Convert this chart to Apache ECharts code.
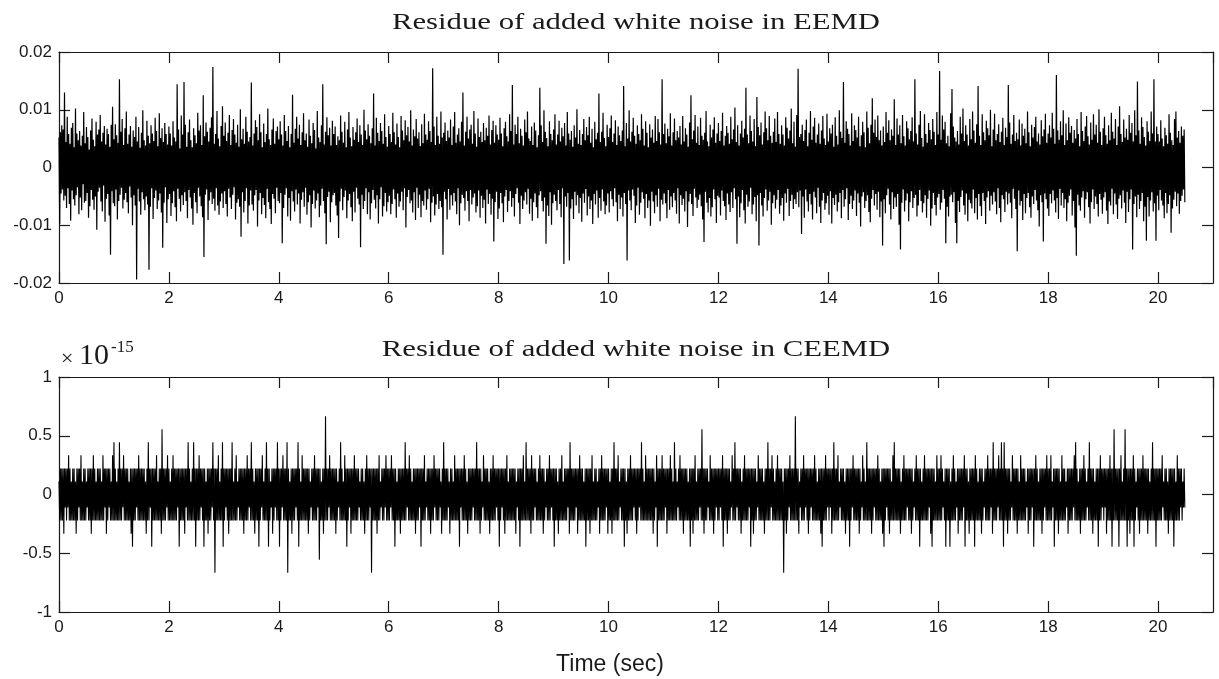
<!DOCTYPE html>
<html>
<head>
<meta charset="utf-8">
<script src="https://cdn.jsdelivr.net/npm/echarts/dist/echarts.min.js"></script>
<style>
  html, body { margin: 0; padding: 0; background: #fff; }
  #chart { width: 1219px; height: 679px; }
</style>
</head>
<body>
<div id="chart"></div>
<script>
// Seconds between stored samples (80 samples per second).
const SAMPLE_STEP = 0.0125;

// EEMD residue, stored in units of 1e-4; one line per second of signal.
const eemdE4 = [
  52,-98,61,-45,73,-38,66,-57,130,-49, 44,-70,88,-36,58,-63,41,-92,69,-40, 77,-55,35,-66,102,-48,59,-34,47,-81, 63,-52,38,-74,55,-29,96,-61,42,-58,
  70,-44,53,-87,31,-67,64,-39,85,-56, 48,-73,37,-50,79,-108,57,-42,66,-35, 91,-59,45,-76,60,-31,72,-94,40,-54, 67,-46,58,-83,36,-151,74,-41,105,-62,
  49,-67,75,-38,56,-90,43,-58,153,-47, 62,-35,84,-71,39,-56,68,-44,97,-60, 41,-79,57,-33,72,-52,36,-100,64,-48, 53,-66,88,-194,45,-37,70,-59,34,-82,
  60,-43,99,-55,47,-74,38,-50,81,-64, 55,-177,42,-68,73,-36,59,-89,46,-53, 86,-40,63,-72,37,-57,94,-45,51,-78, 68,-139,44,-61,77,-34,58,-96,40,-55,
  71,-46,59,-84,38,-62,80,-41,52,-69, 45,-93,144,-37,66,-54,33,-76,90,-48, 57,-65,148,-43,74,-58,36,-88,61,-39, 83,-52,47,-71,35,-99,68,-44,56,-60,
  42,-79,95,-35,64,-50,73,-67,39,-86, 125,-155,54,-47,78,-38,62,-91,45,-57, 69,-43,87,-63,174,-54,41,-75,58,-36, 98,-66,50,-82,37,-59,72,-45,106,-70,
  55,-41,78,-63,46,-85,60,-37,91,-52, 39,-72,65,-47,84,-34,57,-90,43,-61, 74,-55,36,-68,101,-120,49,-43,67,-78, 41,-58,88,-36,62,-97,45,-66,53,-40,
  147,-64,38,-75,59,-48,82,-39,70,-102, 47,-57,92,-44,61,-81,35,-53,76,-65, 44,-88,58,-37,102,-60,49,-72,39,-98, 66,-46,85,-54,41,-79,63,-35,71,-58,
  49,-62,80,-44,57,-131,38,-70,91,-47, 63,-36,46,-85,72,-53,35,-92,58,-41, 126,-59,43,-76,67,-38,88,-64,50,-45, 74,-97,39,-56,61,-43,94,-68,47,-35,
  59,-82,36,-60,83,-48,55,-104,42,-63, 77,-40,65,-71,33,-57,98,-45,52,-86, 44,-66,73,-37,144,-58,40,-79,62,-133, 87,-51,56,-42,69,-95,38,-60,81,-48,
  58,-44,71,-66,39,-83,54,-122,47,-59, 90,-37,62,-74,43,-51,79,-40,35,-88, 66,-57,96,-46,52,-69,37,-93,70,-42, 48,-78,61,-35,85,-54,44,-64,73,-138,
  57,-47,39,-72,100,-58,64,-36,49,-81, 75,-43,55,-90,42,-62,68,-39,128,-56, 38,-71,86,-48,60,-97,46,-55,77,-34, 63,-85,41,-67,92,-44,53,-76,36,-60,
  72,-49,58,-81,44,-63,95,-38,61,-55, 40,-87,76,-45,53,-68,35,-59,89,-42, 64,-74,47,-36,82,-104,56,-51,70,-39, 45,-62,99,-57,38,-78,66,-43,54,-91,
  84,-35,50,-70,61,-47,37,-86,75,-58, 42,-66,93,-40,57,-73,48,-55,80,-37, 63,-95,44,-61,172,-50,71,-83,39,-64, 88,-46,55,-72,41,-58,97,-69,52,-151,
  60,-42,78,-55,46,-90,64,-37,52,-73, 83,-48,39,-66,71,-44,96,-59,43,-81, 57,-36,68,-100,45,-62,79,-47,130,-53, 38,-75,62,-41,88,-58,50,-93,66,-39,
  74,-64,41,-52,98,-45,59,-78,36,-67, 85,-40,53,-87,62,-49,44,-70,77,-56, 47,-97,69,-38,55,-63,90,-46,40,-82, 65,-54,81,-128,43,-60,73,-42,57,-89,
  48,-71,86,-44,59,-62,37,-95,68,-50, 79,-39,54,-77,45,-58,92,-41,63,-68, 143,-53,40,-85,74,-46,58,-36,88,-61, 42,-98,67,-49,55,-72,38,-57,83,-43,
  61,-64,97,-37,50,-80,46,-54,71,-92, 39,-60,78,-45,64,-69,35,-88,56,-48, 138,-41,73,-58,44,-76,99,-52,62,-132, 51,-66,37,-84,80,-43,58,-99,47,-62,
  66,-47,92,-58,40,-74,57,-39,81,-63, 45,-86,69,-36,54,-167,77,-50,38,-68, 96,-44,59,-161,48,-71,63,-55,36,-89, 73,-42,52,-66,101,-48,41,-79,65,-53,
  39,-94,58,-45,84,-61,47,-37,70,-83, 56,-50,88,-72,43,-57,67,-98,35,-46, 79,-64,49,-40,60,-87,128,-53,44,-75, 62,-38,95,-59,51,-81,37,-66,74,-45,
  53,-78,68,-41,90,-55,44,-67,59,-36, 82,-60,39,-93,71,-47,56,-72,46,-52, 64,-85,141,-44,37,-63,77,-161,50,-40, 99,-57,45,-74,62,-38,86,-49,55,-96,
  41,-66,73,-35,58,-82,47,-61,92,-43, 67,-54,38,-88,80,-46,60,-70,35,-57, 75,-101,52,-42,66,-59,43,-79,89,-48, 46,-68,84,-37,61,-93,40,-56,153,-64,
  58,-45,76,-62,42,-88,67,-39,54,-73, 94,-50,38,-69,61,-44,85,-57,47,-80, 63,-36,52,-97,72,-48,40,-65,89,-54, 45,-76,68,-41,57,-103,36,-59,78,-46,
  125,-63,49,-84,64,-37,91,-52,43,-70, 71,-56,39,-47,86,-67,55,-90,48,-129, 60,-42,98,-61,45,-78,37,-53,74,-85, 52,-69,66,-38,87,-55,43,-96,59,-49,
  77,-52,46,-83,63,-40,95,-58,38,-67, 55,-91,72,-45,60,-64,41,-77,88,-43, 49,-70,66,-36,104,-55,44,-132,73,-50, 38,-86,59,-62,81,-39,52,-74,67,-97,
  138,-47,57,-68,42,-59,90,-35,63,-81, 45,-64,84,-51,37,-93,122,-48,70,-135, 56,-44,78,-66,40,-85,61,-53,97,-38, 68,-75,47,-57,89,-42,55,-99,43,-62,
  62,-48,85,-71,44,-56,96,-39,58,-80, 41,-66,73,-53,57,-92,38,-45,87,-61, 69,-37,50,-84,64,-58,102,-47,42,-72, 79,-55,36,-63,91,-43,171,-69,53,-40,
  58,-115,74,-50,46,-87,65,-38,83,-59, 37,-76,60,-46,98,-64,48,-90,71,-42, 86,-52,43,-79,57,-35,76,-68,41,-96, 64,-57,89,-44,50,-73,39,-62,93,-49,
  45,-82,68,-41,59,-97,74,-53,36,-65, 87,-47,55,-76,40,-60,99,-44,62,-88, 51,-39,148,-68,43,-55,80,-36,67,-91, 58,-63,38,-49,94,-72,46,-57,73,-40,
  65,-84,52,-45,88,-61,37,-102,56,-50, 79,-43,61,-70,35,-58,97,-48,69,-77, 42,-95,74,-54,120,-39,60,-66,83,-46, 53,-73,90,-42,47,-86,64,-59,38,-135,
  71,-55,44,-79,96,-48,60,-37,82,-64, 47,-90,66,-43,55,-72,118,-52,39,-68, 85,-46,57,-99,73,-142,42,-61,91,-38, 54,-76,38,-57,80,-45,68,-93,49,-60,
  63,-41,87,-70,45,-53,153,-47,59,-85, 40,-66,74,-39,98,-58,51,-78,36,-62, 92,-48,58,-87,43,-54,77,-40,65,-101, 49,-71,84,-44,62,-65,39,-83,96,-52,
  57,-46,167,-73,48,-61,90,-39,66,-54, 79,-131,42,-68,55,-85,37,-50,94,-47, 136,-60,71,-43,52,-96,45,-131,63,-58, 40,-77,88,-51,59,-40,102,-66,46,-82,
  73,-45,57,-93,38,-56,84,-62,49,-71, 97,-38,64,-79,43,-53,75,-90,141,-46, 55,-67,39,-84,92,-44,61,-58,47,-98, 81,-52,68,-41,56,-75,100,-49,37,-64,
  66,-43,93,-59,47,-81,58,-36,75,-70, 44,-95,62,-48,86,-55,39,-77,69,-42, 53,-64,143,-45,78,-61,41,-88,57,-37, 91,-54,46,-72,60,-145,49,-40,83,-66,
  38,-58,76,-91,55,-46,67,-79,42,-53, 97,-44,61,-69,37,-87,74,-50,52,-63, 70,-39,88,-57,45,-74,59,-102,40,-48, 82,-60,54,-128,66,-45,93,-55,43,-71,
  59,-84,73,-46,52,-62,95,-40,67,-57, 41,-78,160,-53,64,-89,48,-37,80,-66, 56,-44,99,-70,39,-55,76,-93,47,-61, 87,-49,60,-38,72,-83,43,-58,65,-104,
  50,-153,84,-47,58,-66,37,-75,96,-52, 63,-41,46,-87,71,-55,89,-43,54,-69, 40,-97,78,-60,48,-38,92,-72,57,-50, 74,-63,43,-85,101,-46,62,-56,39,-80,
  68,-52,88,-43,56,-75,41,-98,73,-59, 47,-66,95,-37,62,-81,50,-45,84,-64, 39,-89,71,-54,106,-48,58,-71,44,-40, 83,-61,52,-96,67,-42,48,-77,91,-55,
  60,-38,77,-142,45,-63,99,-50,56,-86, 149,-47,64,-72,41,-58,87,-44,70,-93, 53,-68,38,-127,80,-51,62,-85,46,-57, 97,-43,59,-76,153,-62,45,-127,71,-49,
  58,-74,45,-39,82,-57,50,-66,37,-88, 69,-44,56,-79,41,-63,92,-48,60,-113, 47,-71,39,-56,84,-42,97,-67,52,-45, 63,-80,43,-58,71,-49,55,-38,66,-60
];

// CEEMD residue, stored as whole multiples of 2^-53 (round-off level); one line per second.
const ceemdUlp = [
  1,-2,2,-2,2,-2,2,-3,2,-1, 2,-2,2,-1,3,-2,2,-2,1,-2, 2,-2,2,-2,1,-3,2,-2,2,-1, 2,-2,3,-2,1,-2,2,-2,2,-2,
  1,-1,2,-2,2,-2,2,-3,2,-2, 3,-2,2,-2,1,-2,2,-2,2,-2, 2,-2,1,-2,3,-2,2,-1,2,-3, 2,-2,2,-1,2,-2,1,-2,3,-2,
  4,-2,2,-2,1,-2,2,-2,4,-2, 2,-2,2,-1,3,-2,2,-2,2,-2, 2,-2,1,-2,2,-3,2,-4,2,-2, 2,-2,2,-1,2,-2,3,-2,2,-2,
  2,-2,2,-2,2,-2,1,-3,2,-2, 4,-2,2,-1,2,-4,2,-2,2,-2, 2,-2,3,-2,1,-2,2,-2,2,-3, 5,-2,2,-2,2,-2,2,-1,3,-2,
  2,-2,1,-2,2,-2,3,-2,2,-2, 2,-2,2,-1,2,-4,2,-2,2,-2, 2,-2,2,-3,2,-1,2,-2,4,-2, 2,-2,1,-2,2,-2,4,-2,2,-4,
  2,-2,2,-2,3,-2,2,-1,2,-2, 2,-4,2,-2,1,-2,2,-3,2,-2, 2,-2,2,-1,4,-2,2,-6,2,-2, 2,-2,3,-2,1,-2,2,-2,4,-4,
  2,-2,2,-1,2,-2,2,-3,2,-2, 2,-2,4,-2,1,-2,2,-2,3,-2, 1,-1,2,-2,2,-2,2,-2,2,-3, 2,-2,2,-2,3,-2,2,-1,2,-2,
  4,-2,2,-2,1,-3,2,-2,2,-2, 2,-4,2,-2,2,-1,3,-2,1,-2, 2,-2,4,-2,2,-4,2,-2,1,-1, 2,-3,2,-2,2,-1,2,-2,4,-2,
  2,-4,2,-2,2,-1,3,-2,2,-2, 2,-2,4,-6,2,-2,1,-2,2,-3, 2,-2,2,-2,2,-1,2,-2,4,-4, 2,-2,1,-2,3,-2,2,-2,2,-2,
  2,-2,2,-3,2,-2,1,-1,2,-2, 2,-2,3,-2,2,-2,2,-1,2,-5, 2,-2,1,-2,2,-3,2,-2,6,-2, 2,-2,2,-1,3,-2,2,-2,2,-2,
  2,-2,2,-3,2,-2,1,-1,2,-2, 4,-2,2,-2,1,-2,3,-2,2,-4, 2,-2,2,-1,2,-3,2,-2,2,-2, 3,-2,2,-2,2,-2,2,-1,1,-2,
  2,-2,2,-2,1,-3,2,-2,3,-2, 2,-2,2,-1,2,-6,2,-2,2,-2, 2,-2,2,-3,2,-2,3,-2,1,-1, 2,-2,2,-2,2,-1,3,-2,2,-2,
  2,-2,2,-1,3,-2,2,-2,2,-4, 2,-2,1,-2,2,-2,2,-3,2,-2, 2,-2,2,-2,4,-2,2,-1,2,-2, 3,-2,2,-2,1,-2,2,-2,2,-3,
  2,-2,2,-2,2,-1,2,-4,2,-2, 2,-2,3,-2,1,-1,2,-2,2,-2, 2,-3,2,-2,2,-2,3,-1,2,-2, 2,-2,2,-2,2,-1,1,-3,2,-2,
  4,-2,2,-2,2,-2,2,-1,1,-3, 2,-2,2,-2,1,-2,3,-2,2,-2, 2,-2,2,-4,2,-1,2,-2,2,-2, 3,-2,2,-2,1,-3,2,-2,2,-2,
  2,-2,2,-1,2,-2,2,-2,4,-2, 2,-2,2,-3,2,-2,1,-1,3,-2, 2,-2,2,-2,2,-2,1,-3,2,-2, 2,-2,3,-2,2,-2,2,-1,2,-2,
  2,-4,2,-2,2,-1,2,-2,2,-3, 2,-2,3,-2,1,-2,2,-2,2,-2, 2,-2,2,-2,2,-3,1,-1,2,-2, 2,-4,2,-2,2,-2,3,-2,1,-2,
  4,-2,2,-2,2,-2,2,-3,3,-2, 2,-2,2,-1,2,-2,1,-2,2,-2, 3,-2,2,-2,2,-3,2,-2,1,-1, 2,-2,2,-2,3,-2,2,-1,2,-2,
  2,-4,2,-2,2,-2,1,-3,2,-2, 2,-2,3,-2,1,-2,2,-2,2,-2, 2,-1,2,-3,4,-2,2,-2,2,-2, 2,-2,2,-1,2,-3,2,-2,3,-2,
  2,-2,2,-2,1,-2,2,-4,2,-2, 2,-2,2,-3,2,-2,3,-2,1,-2, 2,-2,2,-2,1,-1,2,-3,2,-2, 3,-2,2,-2,2,-2,2,-1,2,-3,
  2,-2,1,-2,2,-3,2,-2,4,-2, 2,-2,2,-2,3,-2,1,-1,2,-2, 2,-2,2,-4,2,-2,1,-3,2,-2, 2,-2,3,-2,2,-2,2,-1,2,-2,
  2,-3,2,-2,2,-1,2,-2,4,-2, 2,-2,1,-2,3,-2,2,-2,2,-2, 2,-2,2,-2,2,-3,2,-2,1,-1, 3,-4,2,-2,2,-2,2,-2,3,-2,
  2,-2,2,-1,2,-3,2,-2,2,-2, 3,-2,2,-2,1,-2,4,-2,2,-2, 1,-1,2,-2,3,-2,2,-2,2,-3, 2,-2,2,-2,2,-2,1,-2,2,-4,
  2,-2,2,-3,2,-2,3,-2,1,-2, 2,-2,2,-1,2,-2,5,-2,2,-3, 2,-2,2,-2,2,-1,1,-2,3,-2, 2,-2,2,-3,2,-2,2,-1,2,-2,
  2,-2,2,-1,2,-2,3,-4,2,-2, 2,-2,2,-3,2,-2,2,-2,1,-1, 3,-2,2,-2,4,-2,2,-1,2,-2, 2,-2,2,-3,1,-2,2,-2,3,-2,
  2,-2,2,-2,2,-1,2,-4,2,-2, 2,-3,2,-2,2,-2,1,-1,3,-2, 2,-2,2,-2,2,-2,1,-3,2,-2, 2,-2,4,-2,2,-2,2,-1,3,-2,
  2,-2,1,-2,2,-2,3,-2,2,-2, 2,-2,2,-2,1,-6,2,-2,2,-3, 2,-2,2,-1,3,-2,2,-2,2,-2, 2,-2,6,-2,2,-2,2,-3,1,-1,
  2,-2,2,-2,3,-2,2,-1,2,-2, 2,-3,2,-2,2,-1,2,-2,2,-2, 3,-2,2,-2,1,-2,2,-2,2,-3, 2,-4,2,-2,2,-2,3,-2,2,-1,
  2,-2,2,-1,2,-3,2,-2,4,-2, 2,-2,2,-2,3,-2,1,-1,2,-2, 2,-2,2,-2,1,-3,2,-2,2,-2, 2,-4,2,-2,2,-1,3,-2,2,-2,
  2,-2,2,-2,2,-3,2,-2,1,-1, 3,-2,2,-2,1,-2,4,-2,2,-2, 2,-2,2,-3,2,-2,2,-1,2,-2, 2,-2,3,-2,2,-2,1,-2,2,-3,
  2,-4,2,-2,2,-1,2,-2,2,-3, 2,-2,1,-2,3,-2,4,-2,2,-2, 2,-2,2,-2,2,-3,1,-2,2,-2, 3,-2,2,-2,2,-1,2,-2,2,-2,
  2,-3,2,-2,1,-1,2,-2,3,-2, 2,-2,2,-4,2,-2,1,-2,2,-2, 3,-2,2,-2,2,-2,2,-1,2,-3, 2,-4,2,-2,2,-2,1,-2,3,-2,
  2,-2,2,-2,3,-2,2,-1,1,-2, 2,-4,2,-2,2,-2,2,-4,1,-2, 2,-2,3,-2,2,-2,1,-1,2,-3, 2,-2,2,-2,2,-2,2,-1,3,-4,
  2,-2,2,-2,1,-3,2,-2,2,-2, 2,-2,2,-4,3,-2,2,-2,1,-2, 2,-2,2,-3,2,-2,1,-1,2,-2, 2,-2,3,-2,2,-2,2,-1,2,-3,
  4,-2,2,-2,2,-2,2,-1,3,-2, 2,-2,4,-2,2,-4,4,-2,2,-2, 2,-3,2,-2,2,-2,1,-1,3,-2, 2,-2,2,-2,2,-3,2,-2,1,-2,
  3,-2,2,-2,2,-2,2,-2,1,-1, 2,-3,2,-2,2,-2,2,-1,2,-4, 2,-2,3,-2,2,-2,1,-2,2,-2, 2,-3,2,-2,2,-1,2,-2,3,-2,
  2,-2,2,-2,3,-2,1,-1,2,-4, 2,-2,2,-2,2,-3,2,-2,1,-2, 3,-2,2,-2,2,-2,1,-1,2,-3, 2,-2,2,-2,2,-2,2,-1,3,-2,
  4,-2,2,-2,1,-2,2,-3,2,-2, 2,-2,3,-2,2,-2,1,-1,2,-2, 4,-2,2,-2,2,-3,2,-2,1,-2, 2,-2,2,-4,2,-2,3,-2,2,-1,
  2,-2,2,-1,2,-3,2,-2,2,-2, 3,-2,2,-4,2,-2,5,-2,2,-2, 2,-2,2,-4,2,-2,3,-2,1,-2, 2,-2,5,-2,2,-4,2,-2,2,-3,
  2,-2,2,-2,3,-4,2,-2,1,-1, 2,-2,2,-3,2,-2,2,-2,3,-2, 2,-2,2,-2,2,-3,2,-2,1,-2, 2,-2,4,-2,2,-2,2,-4,2,-2,
  2,-2,2,-2,2,-2,3,-1,1,-2, 2,-2,2,-2,1,-3,2,-2,2,-2, 2,-2,2,-4,2,-2,1,-2,3,-2, 2,-2,2,-1,2,-2,1,-1,2,-1
];

// Axis settings.
const timeRange = [0, 21];
const timeStep = 2;
const eemdRange = [-0.02, 0.02];
const eemdStep = 0.01;
const ceemdRange = [-1, 1];
const ceemdStep = 0.5;

// Texts.
const eemdTitle = 'Residue of added white noise in EEMD';
const ceemdTitle = 'Residue of added white noise in CEEMD';
const timeLabel = 'Time (sec)';
const ceemdExponent = '-15';

const EEMD_UNIT = 1e-4;
const ULP_IN_E15 = Math.pow(2, -53) * 1e15;

const eemdPoints = eemdE4.map((v, i) => [i * SAMPLE_STEP, v * EEMD_UNIT]);
const ceemdPoints = ceemdUlp.map((v, i) => [i * SAMPLE_STEP, v * ULP_IN_E15]);

const INK = '#1a1a1a';
const LABEL_FONT = '"Liberation Sans", Arial, sans-serif';
const SERIF = '"Liberation Serif", "Times New Roman", serif';

function xAxisFor(grid, position, labels) {
  return {
    gridIndex: grid, type: 'value', position,
    min: timeRange[0], max: timeRange[1], interval: timeStep,
    axisLine: { show: true, onZero: false, lineStyle: { color: INK, width: 1.2 } },
    axisTick: { show: true, inside: true, length: 11, lineStyle: { color: INK, width: 1.2 } },
    axisLabel: {
      show: labels, showMaxLabel: false, color: INK, fontSize: 17,
      fontFamily: LABEL_FONT, margin: 7
    },
    splitLine: { show: false }
  };
}

function yAxisFor(grid, position, range, step, labels) {
  return {
    gridIndex: grid, type: 'value', position,
    min: range[0], max: range[1], interval: step,
    axisLine: { show: true, onZero: false, lineStyle: { color: INK, width: 1.2 } },
    axisTick: { show: true, inside: true, length: 11, lineStyle: { color: INK, width: 1.2 } },
    axisLabel: {
      show: labels, color: INK, fontSize: 17, fontFamily: LABEL_FONT, margin: 7,
      formatter: v => String(+(+v).toFixed(4))
    },
    splitLine: { show: false }
  };
}

function textEl(text, x, y, font, align, extra) {
  return Object.assign({
    type: 'text', x, y, silent: true,
    style: {
      text, font, fill: INK,
      align, textAlign: align,
      verticalAlign: 'middle', textVerticalAlign: 'middle'
    }
  }, extra || {});
}

const chart = echarts.init(document.getElementById('chart'), null, { renderer: 'canvas' });

chart.setOption({
  animation: false,
  backgroundColor: '#fff',
  grid: [
    { left: 59, top: 52, width: 1154, height: 231 },
    { left: 59, top: 377, width: 1154, height: 235 }
  ],
  xAxis: [
    xAxisFor(0, 'bottom', true),
    xAxisFor(0, 'top', false),
    xAxisFor(1, 'bottom', true),
    xAxisFor(1, 'top', false)
  ],
  yAxis: [
    yAxisFor(0, 'left', eemdRange, eemdStep, true),
    yAxisFor(0, 'right', eemdRange, eemdStep, false),
    yAxisFor(1, 'left', ceemdRange, ceemdStep, true),
    yAxisFor(1, 'right', ceemdRange, ceemdStep, false)
  ],
  series: [
    {
      name: 'EEMD', type: 'line', xAxisIndex: 0, yAxisIndex: 0,
      data: eemdPoints, showSymbol: false, symbol: 'none', clip: true,
      lineStyle: { color: '#000', width: 1.2 }, emphasis: { disabled: true }
    },
    {
      name: 'CEEMD', type: 'line', xAxisIndex: 2, yAxisIndex: 2,
      data: ceemdPoints, showSymbol: false, symbol: 'none', clip: true,
      lineStyle: { color: '#000', width: 1.1 }, emphasis: { disabled: true }
    }
  ],
  graphic: [
    textEl(eemdTitle, 636, 23, '24px ' + SERIF, 'center', { scaleX: 1.28 }),
    textEl(ceemdTitle, 636, 350, '24px ' + SERIF, 'center', { scaleX: 1.28 }),
    textEl(timeLabel, 610, 665, '23px ' + LABEL_FONT, 'center'),
    textEl('\u00d7', 61, 359, '22px ' + SERIF, 'left'),
    textEl('10', 79, 356, '30px ' + SERIF, 'left'),
    textEl(ceemdExponent, 111, 348, '17px ' + SERIF, 'left')
  ]
});
</script>
</body>
</html>
